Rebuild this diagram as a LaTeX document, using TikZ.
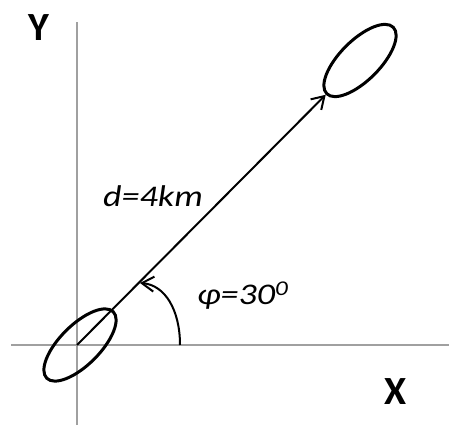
\documentclass[tikz,border=0pt]{standalone}
\usepackage{fontspec}
\setmainfont{Carlito}
\newfontfamily\lblfont[FakeStretch=1.2]{Carlito}
\usetikzlibrary{shapes.geometric,arrows.meta}
\definecolor{axisgray}{RGB}{160,160,160}
\tikzset{
  axis/.style={draw=axisgray,line width=1.6pt},
  antenna/.style={ellipse,draw,line width=3pt,minimum width=94pt,minimum height=40pt,inner sep=0pt,rotate=45},
  lbl/.style={inner sep=0pt,anchor=base west,font=\lblfont\fontsize{30}{36}\selectfont\itshape},
  axlbl/.style={inner sep=0pt,font=\fontsize{40}{48}\selectfont\bfseries}
}
\begin{document}
\begin{tikzpicture}[x=1pt,y=1pt,>={Straight Barb[length=12pt,width=15pt,line width=2pt]}]
  \useasboundingbox (0,0) rectangle (449,425);
  % axes
  \coordinate (O) at (77,80);
  \coordinate (ytop) at (77,403);
  \coordinate (ybot) at (77,0);
  \coordinate (xleft) at (11,80);
  \coordinate (xright) at (449,80);
  \draw[axis] (ybot)--(ytop);
  \draw[axis] (xleft)--(xright);
  \node[axlbl] (ylab) at (39,397) {Y};
  \node[axlbl] (xlab) at (396,33) {X};
  % antennas
  \node[antenna] (lo) at (80,80) {};
  \node[antenna] (hi) at (360,364.5) {};
  \draw[->,line width=2pt] (O)--(hi.west);
  % angle
  \coordinate (a0) at (180,80);
  \coordinate (a1) at (140,142);
  \draw[->,line width=2pt] (a0) .. controls (180,115) and (165,140) .. (a1);
  \node[lbl] (dlab) at (103,218) {d=4km};
  \node[lbl] (phlab) at (197,120) {φ=30\textsuperscript{0}};
\end{tikzpicture}
\end{document}
